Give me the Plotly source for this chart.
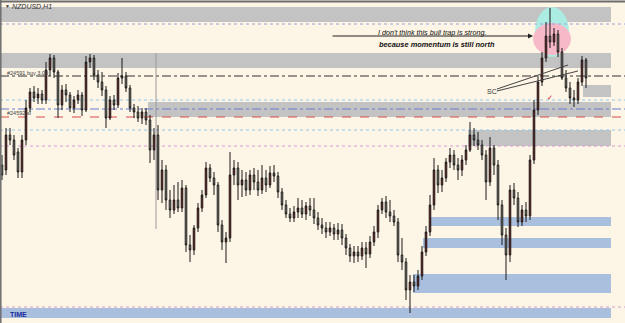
import plotly.graph_objects as go

# OHLC values (price units, higher = higher)
opens = [158,153,188,183,171,151,183,215,231,225,229,223,253,265,251,218,233,228,215,223,
         228,213,261,265,248,241,233,205,223,218,245,247,235,215,211,205,211,203,173,188,
         133,153,123,113,123,115,135,78,73,95,115,128,155,145,138,98,81,85,148,155,
         138,143,133,148,141,133,145,138,150,147,131,118,109,105,111,115,109,117,113,105,
         98,95,91,95,89,93,85,75,67,71,67,75,69,81,91,113,121,111,107,101,
         68,61,33,41,37,47,71,91,118,153,138,145,161,168,158,153,163,173,188,183,
         178,168,141,175,158,118,88,68,133,125,101,113,107,163,213,241,265,287,281,289,
         271,245,235,225,223,241,263]
highs = [168,195,195,188,175,188,223,235,237,235,233,261,269,268,253,238,239,231,227,233,
         231,267,269,268,253,251,237,227,228,250,265,251,238,219,217,215,215,208,195,198,
         163,158,133,138,141,143,138,88,98,120,133,161,159,151,141,103,91,171,163,161,
         153,151,153,155,153,158,153,157,158,151,135,123,115,117,125,123,121,125,125,111,
         105,101,101,99,100,99,89,79,77,77,81,81,87,97,118,125,127,123,113,105,
         85,65,48,48,53,77,97,128,165,158,153,165,175,173,165,168,178,201,195,191,
         183,173,186,178,163,123,95,138,140,131,118,121,168,223,247,271,301,315,295,293,
         275,253,241,233,245,267,265]
lows = [143,148,178,163,145,145,178,211,221,219,219,219,247,245,205,213,221,211,210,219,
        207,211,255,243,235,227,195,203,213,215,239,231,211,205,201,199,198,160,163,123,
        120,113,105,109,111,111,71,61,68,91,111,125,141,128,91,73,60,81,138,123,
        126,127,128,133,127,129,131,135,141,125,113,105,101,101,105,105,103,107,99,93,
        89,85,87,83,83,78,68,61,60,61,63,55,65,77,85,109,105,101,97,61,
        53,23,10,31,33,43,67,87,113,130,131,141,155,153,143,147,158,171,177,173,
        163,123,137,148,103,78,43,61,118,96,97,101,103,159,208,237,261,275,277,266,
        243,231,219,216,219,237,235]
closes = [148,188,183,168,151,183,215,231,225,229,223,253,265,251,218,233,228,215,223,228,
          213,261,265,248,241,233,205,223,218,245,247,235,215,211,205,211,203,173,188,133,
          153,123,113,123,115,135,78,73,95,115,128,155,145,138,98,81,85,148,155,138,
          143,133,148,141,133,145,138,150,147,131,118,109,105,111,115,109,117,113,105,98,
          95,91,95,89,93,85,75,67,71,67,75,69,81,91,113,121,111,107,101,68,
          61,33,41,37,47,71,91,118,153,138,145,161,168,158,153,163,173,188,183,178,
          168,141,175,158,118,88,68,133,125,101,113,107,163,213,241,265,287,281,289,271,
          245,235,225,223,241,263,245]
bars = list(range(len(closes)))

W, H = 625, 323
BG = "#FDF5E6"


def X(px):
    return (px - 2) / 4.0


def Y(py):
    return H - py


fig = go.Figure()
fig.add_trace(go.Candlestick(
    x=bars, open=opens, high=highs, low=lows, close=closes,
    increasing=dict(fillcolor="#a01818", line=dict(color="#1a1a1a", width=1)),
    decreasing=dict(fillcolor="#b5b0a4", line=dict(color="#1a1a1a", width=1)),
    whiskerwidth=0, showlegend=False, hoverinfo="skip"))

shapes = []


def rect(x0, x1, y0, y1, color):
    shapes.append(dict(type="rect", xref="x", yref="y", x0=X(x0), x1=X(x1),
                       y0=Y(y0), y1=Y(y1), fillcolor=color, line=dict(width=0),
                       layer="below"))


def hline(py, color, dash, x0=0, x1=625, width=1):
    shapes.append(dict(type="line", xref="x", yref="y", x0=X(x0), x1=X(x1),
                       y0=Y(py), y1=Y(py), line=dict(color=color, width=width, dash=dash),
                       layer="below"))


GRAY = "#C3C3C3"
BLUE = "#A9BFDD"
rect(0, 611, 7, 22, GRAY)
rect(0, 611, 53, 68, GRAY)
rect(148, 611, 102, 117, GRAY)
rect(583, 611, 85, 97, GRAY)
rect(468, 611, 130, 146, GRAY)
rect(430, 611, 217, 226, BLUE)
rect(423, 611, 238, 248, BLUE)
rect(413, 611, 274, 293, BLUE)
rect(0, 611, 308, 318, BLUE)

# ellipses
shapes.append(dict(type="circle", xref="x", yref="y", x0=X(535), x1=X(569), y0=Y(7), y1=Y(57),
                   fillcolor="#ABEDE2", line=dict(width=0), layer="below"))
shapes.append(dict(type="circle", xref="x", yref="y", x0=X(533), x1=X(571), y0=Y(23), y1=Y(55),
                   fillcolor="#F7B9C8", line=dict(width=0), layer="below"))

hline(24, "#9AA4E0", "dot")
hline(76, "#333333", "dashdot")
hline(100, "#8EC8F0", "dot")
hline(109, "#6A7AD0", "dashdot")
hline(117, "#D84A4A", "dash")
hline(130, "#8EC8F0", "dot")
hline(146, "#D89AD8", "dot")
hline(307, "#D0A0D0", "dot")

# vertical line
shapes.append(dict(type="line", xref="x", yref="y", x0=X(156), x1=X(156), y0=Y(53), y1=Y(229),
                   line=dict(color="#9A9A9A", width=1), layer="below"))
# borders
shapes.append(dict(type="line", xref="paper", yref="paper", x0=0, x1=1, y0=1 - 1.5 / H, y1=1 - 1.5 / H,
                   line=dict(color="#6E6E6E", width=2)))
shapes.append(dict(type="line", xref="paper", yref="paper", x0=0.8 / W, x1=0.8 / W, y0=0, y1=1,
                   line=dict(color="#6E6E6E", width=1.5)))
# SC lines
for (xa, ya, xb, yb) in [(497, 89, 568, 65), (497, 91, 578, 71)]:
    shapes.append(dict(type="line", xref="x", yref="y", x0=X(xa), x1=X(xb), y0=Y(ya), y1=Y(yb),
                       line=dict(color="#444444", width=1)))

ann = []


def text(px, py, s, size=7, color="#333333", xanchor="left"):
    ann.append(dict(x=X(px), y=Y(py), xref="x", yref="y", text=s, showarrow=False,
                    xanchor=xanchor, yanchor="middle",
                    font=dict(size=size, color=color, family="Arial, Liberation Sans")))


text(3, 6, "▼", size=5, color="#333")
text(10, 6, "<i>NZDUSD,H1</i>", size=7, color="#333")
text(5, 73, "#24591 buy 3.00", size=5.5, color="#444")
text(5, 113, "#24592 sl", size=5.5, color="#444")
text(432, 32, "<i>I don't think this bull trap is strong.</i>", size=7.2, color="#111",
     xanchor="center")
text(437, 44, "<i><b>because momentum is still north</b></i>", size=7.4, color="#111",
     xanchor="center")
text(485, 91, "SC", size=7, color="#333")
text(545, 97, "✓", size=7, color="#D02020")
text(8, 314, "<b>TIME</b>", size=7, color="#1A2A9A")

ann.append(dict(x=X(533), y=Y(36), ax=X(331), ay=Y(36), xref="x", yref="y", axref="x", ayref="y",
                showarrow=True, arrowhead=2, arrowsize=1, arrowwidth=1, arrowcolor="#222",
                text=""))

fig.update_layout(
    width=W, height=H, margin=dict(l=0, r=0, t=0, b=0),
    paper_bgcolor=BG, plot_bgcolor=BG, shapes=shapes, annotations=ann,
    boxgap=0.45,
    xaxis=dict(range=[X(0), X(W)], visible=False, showgrid=False, zeroline=False,
               rangeslider=dict(visible=False), fixedrange=True),
    yaxis=dict(range=[0, H], visible=False, showgrid=False, zeroline=False, fixedrange=True),
)

fig.write_html("out.html", config={"displayModeBar": False})
